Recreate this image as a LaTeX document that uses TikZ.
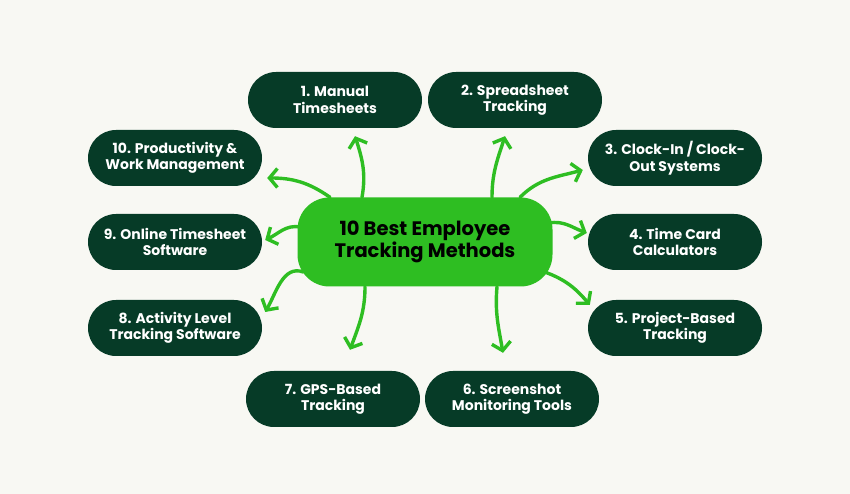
\documentclass[tikz,border=0pt]{standalone}
\usepackage{fontspec}
\setmainfont{Poppins}
\usepackage{tikz}
\usetikzlibrary{arrows.meta}
\usetikzlibrary{calc}
\definecolor{bgcol}{HTML}{F8F8F3}
\definecolor{darkgreen}{HTML}{063B27}
\definecolor{lightgreen}{HTML}{2EBE22}
\tikzstyle{method} = [rectangle, rounded corners=28pt, minimum width=174pt, minimum
height=56pt, text centered, align=center, fill=darkgreen, text=white,
font=\bfseries\fontsize{14}{16.5}\selectfont]
\tikzstyle{hub} = [rectangle, rounded corners=32pt, minimum width=255pt, minimum
height=89pt, text centered, align=center, fill=lightgreen, text=black,
font=\bfseries\fontsize{19.5}{22}\selectfont]
\tikzstyle{arrow} = [draw=lightgreen, line width=3.4pt, line cap=round,
-{Straight Barb[length=8pt, width=19pt, line width=3.4pt]}]

\begin{document}
\begin{tikzpicture} [x=1pt, y=1pt]
    \fill[bgcol] (0,0) rectangle (850,494);
    \useasboundingbox (0,0) rectangle (850,494);

    \node (center) [hub] at (425,252) {10 Best Employee\\Tracking Methods};
    \node (m1) [method] at (335,394) {1. Manual\\Timesheets};
    \node (m2) [method] at (515,394) {2. Spreadsheet\\Tracking};
    \node (m3) [method] at (675,336) {3. Clock-In / Clock-\\Out Systems};
    \node (m4) [method] at (675,252) {4. Time Card\\Calculators};
    \node (m5) [method] at (675,166) {5. Project-Based\\Tracking};
    \node (m6) [method] at (512,95) {6. Screenshot\\Monitoring Tools};
    \node (m7) [method] at (333,95) {7. GPS-Based\\Tracking};
    \node (m8) [method] at (175,166) {8. Activity Level\\Tracking Software};
    \node (m9) [method] at (175,252) {9. Online Timesheet\\Software};
    \node (m10) [method] at (175,336) {10. Productivity \&\\Work Management};

    \draw[arrow] ($(center.north)+(-63,0)$) to[out=80, in=-72] ($(m1.south)+(20,-8)$);
    \draw[arrow] ($(center.north)+(67,0)$) to[out=90, in=-108] ($(m2.south)+(-10,-8)$);
    \draw[arrow] ($(center.north)+(95,0)$) to[out=45, in=-165] ($(m3.west)+(-5,-12)$);
    \draw[arrow] ($(center.east)+(-4,19)$) to[out=10, in=160] ($(m4.west)+(-1,9)$);
    \draw[arrow] ($(center.east)+(-8,-30)$) to[out=-20, in=130] ($(m5.west)+(2,23)$);
    \draw[arrow] ($(center.south)+(72,0)$) to[out=-95, in=100] ($(m6.north)+(-9,18)$);
    \draw[arrow] ($(center.south)+(-60,0)$) to[out=-90, in=70] ($(m7.north)+(17,21)$);
    \draw[arrow] ($(center.west)+(6,-30)$) to[out=160, in=60] ($(m8.east)+(3,16)$);
    \draw[arrow] ($(center.west)+(3,15)$) to[out=170, in=25] ($(m9.east)+(3,2)$);
    \draw[arrow] ($(center.north)+(-95,0)$) to[out=145, in=0] ($(m10.east)+(5,-20)$);

\end{tikzpicture}
\end{document}
